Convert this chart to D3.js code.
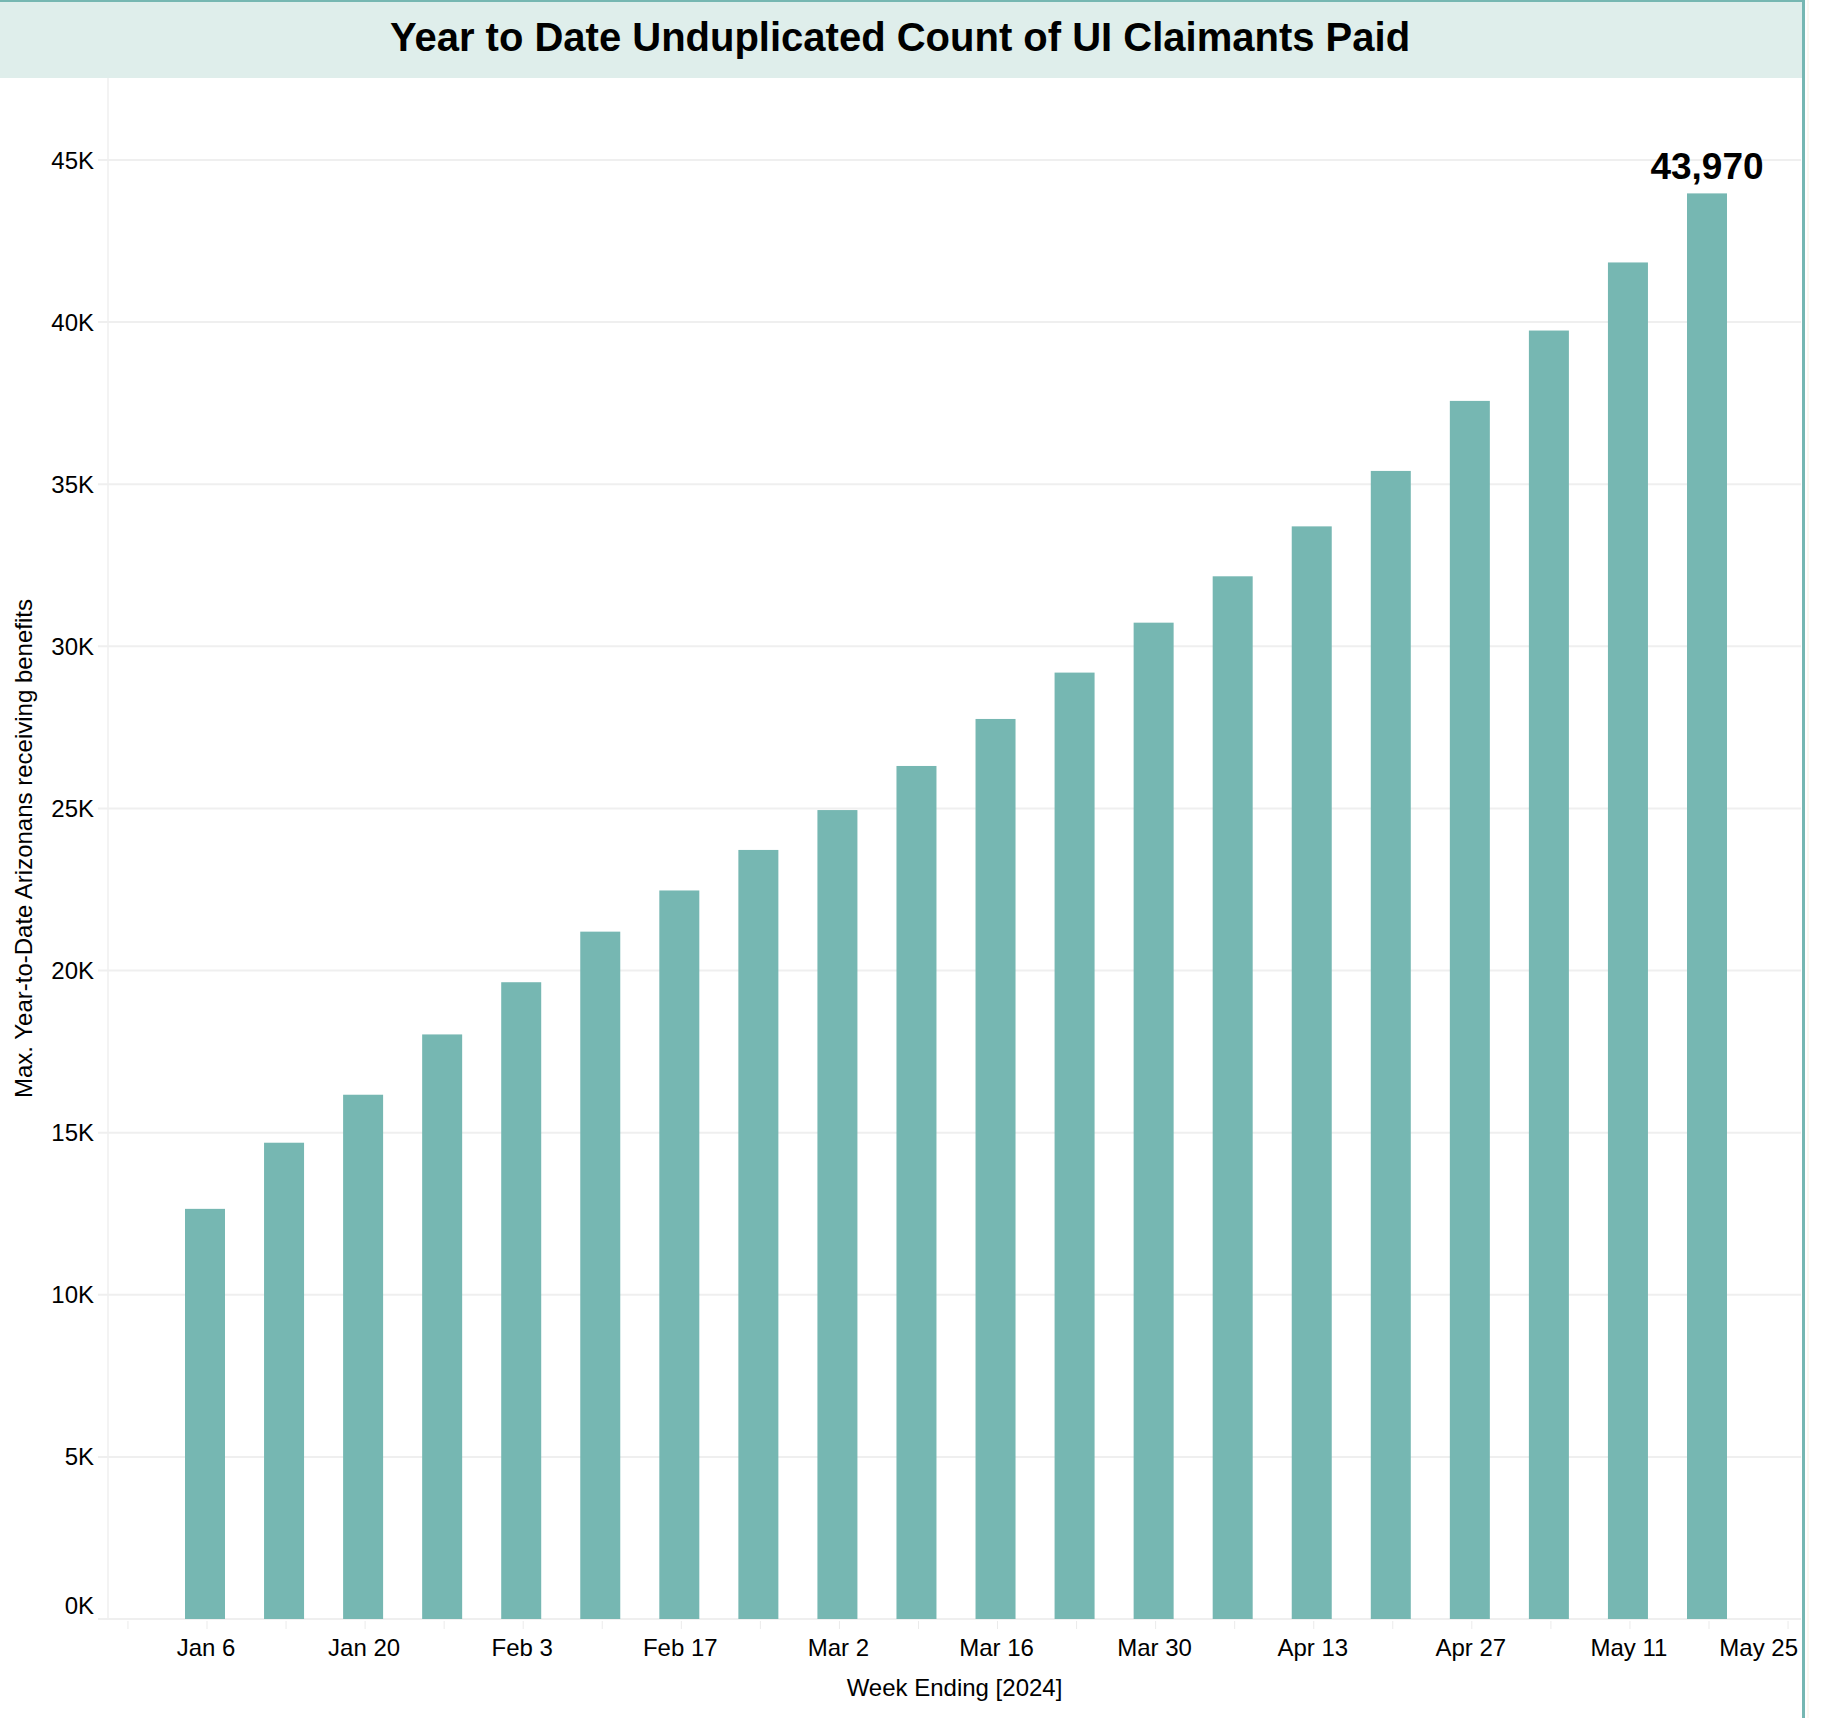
<!DOCTYPE html>
<html>
<head>
<meta charset="utf-8">
<script src="https://cdn.jsdelivr.net/npm/d3@7"></script>
<style>
    body { margin: 0; background: #fff; }
    text { font-family: "Liberation Sans", Arial, sans-serif; fill: #000; }
</style>
</head>
<body>
<div id="chart"></div>
<script>
const width = 1825
const height = 1718

// data
const weekEnding = ["2024-01-06", "2024-01-13", "2024-01-20", "2024-01-27", "2024-02-03",
    "2024-02-10", "2024-02-17", "2024-02-24", "2024-03-02", "2024-03-09",
    "2024-03-16", "2024-03-23", "2024-03-30", "2024-04-06", "2024-04-13",
    "2024-04-20", "2024-04-27", "2024-05-04", "2024-05-11", "2024-05-18"]
const claimants = [12650, 14690, 16170, 18030, 19640, 21200, 22470, 23720, 24950, 26310,
    27760, 29190, 30730, 32160, 33700, 35410, 37570, 39740, 41840, 43970]
const yTicks = [0, 5000, 10000, 15000, 20000, 25000, 30000, 35000, 40000, 45000]
const xTickDates = ["2023-12-30", "2024-01-06", "2024-01-13", "2024-01-20", "2024-01-27",
    "2024-02-03", "2024-02-10", "2024-02-17", "2024-02-24", "2024-03-02", "2024-03-09",
    "2024-03-16", "2024-03-23", "2024-03-30", "2024-04-06", "2024-04-13", "2024-04-20",
    "2024-04-27", "2024-05-04", "2024-05-11", "2024-05-18", "2024-05-25"]
const xLabelDates = ["2024-01-06", "2024-01-20", "2024-02-03", "2024-02-17", "2024-03-02",
    "2024-03-16", "2024-03-30", "2024-04-13", "2024-04-27", "2024-05-11", "2024-05-25"]

const pane = {left: 108, right: 1801, top: 78, bottom: 1619}
const teal = "#76b7b2"
const grid = "#efefef"

const parse = d3.utcParse("%Y-%m-%d")
const fmtDate = d3.utcFormat("%b %-d")
const data = weekEnding.map((d, i) => ({date: parse(d), value: claimants[i]}))

const svg = d3.select("#chart").append("svg").attr("width", width).attr("height", height)

// title band
svg.append("rect").attr("x", 0).attr("y", 0).attr("width", 1803).attr("height", pane.top)
    .attr("fill", "#dfeeeb")
svg.append("text").attr("x", 900).attr("y", 51)
    .attr("text-anchor", "middle")
    .style("font-size", "40px").style("font-weight", "bold")
    .text("Year to Date Unduplicated Count of UI Claimants Paid")

let x = d3.scaleUtc()
    .domain([parse(weekEnding[0]), parse(weekEnding[weekEnding.length - 1])])
    .range([205, 1707])
let y = d3.scaleLinear().domain([0, 45000]).range([pane.bottom, 160])

const barWidth = (x(data[1].date) - x(data[0].date)) * 0.506

// gridlines
const gridGroup = svg.append("g").attr("id", "gridGroup")
gridGroup.selectAll("line.h").data(yTicks).enter().append("line")
    .attr("x1", pane.left - 10).attr("x2", pane.right)
    .attr("y1", d => y(d)).attr("y2", d => y(d))
    .attr("stroke", grid).attr("stroke-width", 2)
gridGroup.append("line")
    .attr("x1", pane.left).attr("x2", pane.left)
    .attr("y1", pane.top).attr("y2", pane.bottom)
    .attr("stroke", grid).attr("stroke-width", 1.5)

// y axis labels
const yAxisGroup = svg.append("g").attr("id", "yAxisGroup")
yAxisGroup.selectAll("text").data(yTicks).enter().append("text")
    .attr("x", 94)
    .attr("y", d => d == 0 ? y(d) - 5 : y(d) + 8.5)
    .attr("text-anchor", "end")
    .style("font-size", "24px")
    .text(d => d3.format("d")(d / 1000) + "K")

// bars
const elementGroup = svg.append("g").attr("id", "elementGroup")
elementGroup.selectAll("rect").data(data).enter().append("rect")
    .attr("x", d => x(d.date) - barWidth / 2)
    .attr("width", barWidth)
    .attr("y", d => y(d.value))
    .attr("height", d => y(0) - y(d.value))
    .attr("fill", teal)

// label on the last bar
const last = data[data.length - 1]
elementGroup.append("text")
    .attr("x", x(last.date)).attr("y", y(last.value) - 14)
    .attr("text-anchor", "middle")
    .style("font-size", "37px").style("font-weight", "bold")
    .text(d3.format(",")(last.value))

// x axis
const xAxisGroup = svg.append("g").attr("id", "xAxisGroup")
xAxisGroup.selectAll("line").data(xTickDates.map(parse)).enter().append("line")
    .attr("x1", d => x(d) + 2).attr("x2", d => x(d) + 2)
    .attr("y1", pane.bottom + 2).attr("y2", pane.bottom + 10)
    .attr("stroke", "#ebebeb").attr("stroke-width", 1)
// the last label would overflow the pane, so it is pushed against the right edge
const overflows = d => x(d) + 45 > pane.right
xAxisGroup.selectAll("text").data(xLabelDates.map(parse)).enter().append("text")
    .attr("x", d => overflows(d) ? pane.right - 3 : x(d) + 1)
    .attr("y", 1656)
    .attr("text-anchor", d => overflows(d) ? "end" : "middle")
    .style("font-size", "24px")
    .text(d => fmtDate(d))

// axis titles
svg.append("text")
    .attr("x", (pane.left + pane.right) / 2).attr("y", 1696)
    .attr("text-anchor", "middle")
    .style("font-size", "24px")
    .text("Week Ending [2024]")
svg.append("text")
    .attr("transform", `translate(32, ${(pane.top + pane.bottom) / 2}) rotate(-90)`)
    .attr("text-anchor", "middle")
    .style("font-size", "24px")
    .text("Max. Year-to-Date Arizonans receiving benefits")

// dashboard borders
svg.append("line").attr("x1", 0).attr("x2", 1805).attr("y1", 1).attr("y2", 1)
    .attr("stroke", teal).attr("stroke-width", 2)
svg.append("line").attr("x1", 1803.5).attr("x2", 1803.5).attr("y1", 0).attr("y2", height)
    .attr("stroke", teal).attr("stroke-width", 3)
svg.append("line").attr("x1", 1808).attr("x2", 1808).attr("y1", 0).attr("y2", height)
    .attr("stroke", "#f7f1e3").attr("stroke-width", 1)
</script>
</body>
</html>
